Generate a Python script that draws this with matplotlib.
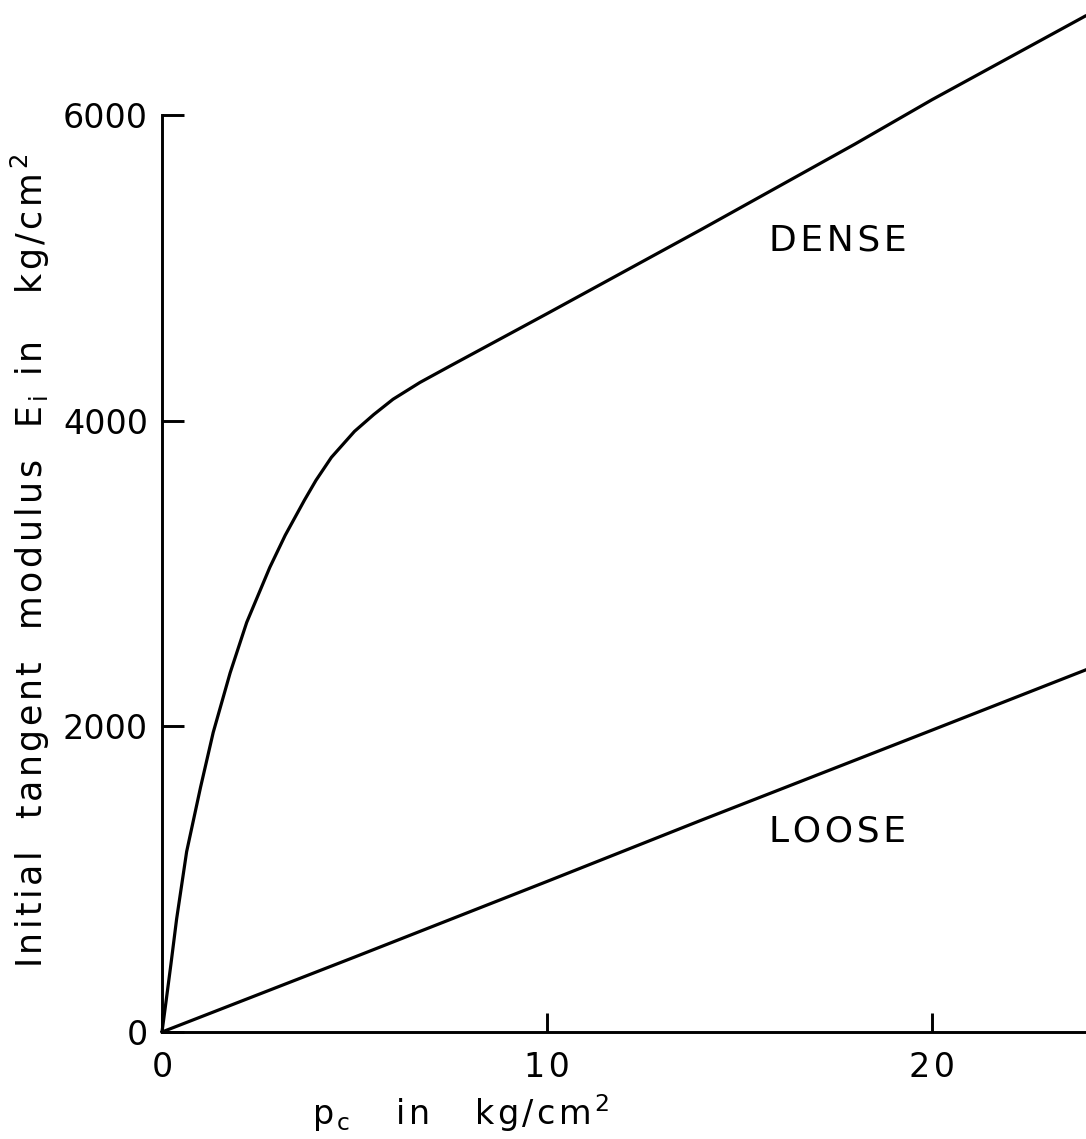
import matplotlib
matplotlib.use("Agg")
import matplotlib.pyplot as plt

# Data
pc_dense = [0, 0.1, 0.23, 0.38, 0.64, 1.0, 1.33, 1.77, 2.2, 2.8, 3.2, 3.7, 4.0, 4.4, 5.0, 5.5, 6.0, 6.7, 7.5, 10, 14, 18, 20, 24]
E_dense = [0, 190, 440, 740, 1180, 1600, 1960, 2350, 2680, 3040, 3250, 3480, 3610, 3760, 3930, 4040, 4140, 4250, 4360, 4700, 5250, 5810, 6100, 6650]
pc_loose = [0, 5, 10, 14, 20, 24]
E_loose = [0, 490, 985, 1385, 1975, 2370]

x_ticks = [0, 10, 20]
y_ticks = [0, 2000, 4000, 6000]

HS = "\u200a"  # hair space used as letter spacing


def spaced(parts):
    """parts: list of plain strings and ('math', str) chunks."""
    out = []
    for p in parts:
        if isinstance(p, tuple):
            out.append(p[1])
        else:
            out.append(HS.join(p))
    return HS.join(out)


W, H = 1086, 1139
fig = plt.figure(figsize=(W / 100, H / 100), dpi=100)
ax = fig.add_axes([162 / W, 1 - 1032 / H, (W - 162) / W, (1032 - 115) / H])

lw_axis = 2.1
ax.plot(pc_dense, E_dense, color="black", lw=2.3, clip_on=False,
        solid_joinstyle="round", solid_capstyle="round")
ax.plot(pc_loose, E_loose, color="black", lw=2.3, clip_on=False)

ax.set_xlim(0, 24)
ax.set_ylim(0, 6000)
ax.set_xticks(x_ticks)
ax.set_yticks(y_ticks)
ax.set_xticklabels([HS.join(str(v)) for v in x_ticks])
ax.set_yticklabels([str(v) for v in y_ticks])

for s in ["top", "right"]:
    ax.spines[s].set_visible(False)
for s in ["left", "bottom"]:
    ax.spines[s].set_linewidth(lw_axis)

ax.tick_params(axis="both", direction="in", width=lw_axis, labelsize=24)
ax.tick_params(axis="y", pad=10, length=16)
ax.tick_params(axis="x", pad=14, length=14)

ax.text(17.55, 5176, spaced(["DENSE"]), fontsize=26, ha="center", va="center")
ax.text(17.55, 1315, spaced(["LOOSE"]), fontsize=26, ha="center", va="center")

xlabel = spaced(["p", ("m", r"$_\mathregular{c}$"), "   in   kg/cm", ("m", r"$^\mathregular{2}$")])
fig.text(460 / W, 1 - 1113 / H, xlabel, fontsize=24, ha="center", va="center")

ylabel = spaced(["Initial  tangent  modulus  E", ("m", r"$_\mathregular{i}$"),
                 " in   kg/cm", ("m", r"$^\mathregular{2}$")])
fig.text(30 / W, 1 - 561 / H, ylabel, fontsize=25, rotation=90, ha="center", va="center")

fig.savefig("out.png", dpi=100)
